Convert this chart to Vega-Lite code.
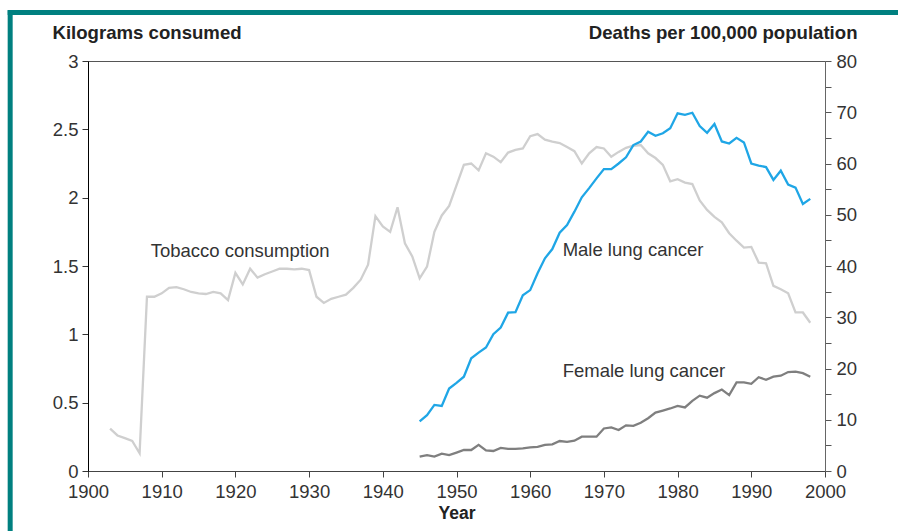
{
  "$schema": "https://vega.github.io/schema/vega-lite/v6.json",
  "width": 737,
  "height": 410,
  "autosize": {"type": "none"},
  "padding": {"left": 88, "top": 61, "right": 73, "bottom": 60},
  "background": "white",
  "config": {
    "view": {"stroke": "#555", "strokeWidth": 1},
    "font": "Liberation Sans",
    "axis": {
      "grid": false,
      "labelFont": "Liberation Sans",
      "labelFontSize": 18.5,
      "labelColor": "#333",
      "titleFont": "Liberation Sans",
      "titleFontSize": 18.6,
      "titleFontWeight": "bold",
      "titleColor": "#222",
      "tickSize": 6,
      "labelOverlap": false,
      "labelFlush": false
    }
  },
  "datasets": {
    "tobacco": [
      {"year": 1903, "kg": 0.31}, {"year": 1904, "kg": 0.26}, {"year": 1905, "kg": 0.24}, {"year": 1906, "kg": 0.22}, {"year": 1907, "kg": 0.13},
      {"year": 1908, "kg": 1.275}, {"year": 1909, "kg": 1.275}, {"year": 1910, "kg": 1.30}, {"year": 1911, "kg": 1.34}, {"year": 1912, "kg": 1.345},
      {"year": 1913, "kg": 1.33}, {"year": 1914, "kg": 1.31}, {"year": 1915, "kg": 1.30}, {"year": 1916, "kg": 1.295}, {"year": 1917, "kg": 1.31},
      {"year": 1918, "kg": 1.30}, {"year": 1919, "kg": 1.25}, {"year": 1920, "kg": 1.45}, {"year": 1921, "kg": 1.365}, {"year": 1922, "kg": 1.48},
      {"year": 1923, "kg": 1.415}, {"year": 1924, "kg": 1.44}, {"year": 1925, "kg": 1.46}, {"year": 1926, "kg": 1.48}, {"year": 1927, "kg": 1.48},
      {"year": 1928, "kg": 1.475}, {"year": 1929, "kg": 1.48}, {"year": 1930, "kg": 1.47}, {"year": 1931, "kg": 1.275}, {"year": 1932, "kg": 1.23},
      {"year": 1933, "kg": 1.26}, {"year": 1934, "kg": 1.275}, {"year": 1935, "kg": 1.29}, {"year": 1936, "kg": 1.34}, {"year": 1937, "kg": 1.40},
      {"year": 1938, "kg": 1.51}, {"year": 1939, "kg": 1.865}, {"year": 1940, "kg": 1.79}, {"year": 1941, "kg": 1.75}, {"year": 1942, "kg": 1.93},
      {"year": 1943, "kg": 1.666}, {"year": 1944, "kg": 1.57}, {"year": 1945, "kg": 1.41}, {"year": 1946, "kg": 1.495}, {"year": 1947, "kg": 1.75},
      {"year": 1948, "kg": 1.87}, {"year": 1949, "kg": 1.94}, {"year": 1950, "kg": 2.09}, {"year": 1951, "kg": 2.24}, {"year": 1952, "kg": 2.25},
      {"year": 1953, "kg": 2.20}, {"year": 1954, "kg": 2.325}, {"year": 1955, "kg": 2.30}, {"year": 1956, "kg": 2.26}, {"year": 1957, "kg": 2.33},
      {"year": 1958, "kg": 2.35}, {"year": 1959, "kg": 2.36}, {"year": 1960, "kg": 2.45}, {"year": 1961, "kg": 2.465}, {"year": 1962, "kg": 2.425},
      {"year": 1963, "kg": 2.41}, {"year": 1964, "kg": 2.40}, {"year": 1965, "kg": 2.37}, {"year": 1966, "kg": 2.34}, {"year": 1967, "kg": 2.25},
      {"year": 1968, "kg": 2.325}, {"year": 1969, "kg": 2.37}, {"year": 1970, "kg": 2.36}, {"year": 1971, "kg": 2.30}, {"year": 1972, "kg": 2.335},
      {"year": 1973, "kg": 2.365}, {"year": 1974, "kg": 2.38}, {"year": 1975, "kg": 2.385}, {"year": 1976, "kg": 2.325}, {"year": 1977, "kg": 2.29},
      {"year": 1978, "kg": 2.24}, {"year": 1979, "kg": 2.12}, {"year": 1980, "kg": 2.135}, {"year": 1981, "kg": 2.11}, {"year": 1982, "kg": 2.10},
      {"year": 1983, "kg": 1.98}, {"year": 1984, "kg": 1.91}, {"year": 1985, "kg": 1.86}, {"year": 1986, "kg": 1.82}, {"year": 1987, "kg": 1.74},
      {"year": 1988, "kg": 1.685}, {"year": 1989, "kg": 1.635}, {"year": 1990, "kg": 1.64}, {"year": 1991, "kg": 1.525}, {"year": 1992, "kg": 1.52},
      {"year": 1993, "kg": 1.355}, {"year": 1994, "kg": 1.33}, {"year": 1995, "kg": 1.30}, {"year": 1996, "kg": 1.16}, {"year": 1997, "kg": 1.16},
      {"year": 1998, "kg": 1.085}
    ],
    "cancer": [
      {"year": 1945, "sex": "Male", "deaths": 9.7}, {"year": 1946, "sex": "Male", "deaths": 10.9}, {"year": 1947, "sex": "Male", "deaths": 12.9},
      {"year": 1948, "sex": "Male", "deaths": 12.7}, {"year": 1949, "sex": "Male", "deaths": 16.1}, {"year": 1950, "sex": "Male", "deaths": 17.2},
      {"year": 1951, "sex": "Male", "deaths": 18.4}, {"year": 1952, "sex": "Male", "deaths": 22.0}, {"year": 1953, "sex": "Male", "deaths": 23.1},
      {"year": 1954, "sex": "Male", "deaths": 24.1}, {"year": 1955, "sex": "Male", "deaths": 26.7}, {"year": 1956, "sex": "Male", "deaths": 28.0},
      {"year": 1957, "sex": "Male", "deaths": 30.9}, {"year": 1958, "sex": "Male", "deaths": 31.0}, {"year": 1959, "sex": "Male", "deaths": 34.3},
      {"year": 1960, "sex": "Male", "deaths": 35.3}, {"year": 1961, "sex": "Male", "deaths": 38.6}, {"year": 1962, "sex": "Male", "deaths": 41.5},
      {"year": 1963, "sex": "Male", "deaths": 43.3}, {"year": 1964, "sex": "Male", "deaths": 46.5}, {"year": 1965, "sex": "Male", "deaths": 48.0},
      {"year": 1966, "sex": "Male", "deaths": 50.6}, {"year": 1967, "sex": "Male", "deaths": 53.4}, {"year": 1968, "sex": "Male", "deaths": 55.2},
      {"year": 1969, "sex": "Male", "deaths": 57.1}, {"year": 1970, "sex": "Male", "deaths": 58.9}, {"year": 1971, "sex": "Male", "deaths": 58.9},
      {"year": 1972, "sex": "Male", "deaths": 60.0}, {"year": 1973, "sex": "Male", "deaths": 61.2}, {"year": 1974, "sex": "Male", "deaths": 63.6},
      {"year": 1975, "sex": "Male", "deaths": 64.3}, {"year": 1976, "sex": "Male", "deaths": 66.2}, {"year": 1977, "sex": "Male", "deaths": 65.4},
      {"year": 1978, "sex": "Male", "deaths": 65.9}, {"year": 1979, "sex": "Male", "deaths": 66.9}, {"year": 1980, "sex": "Male", "deaths": 69.8},
      {"year": 1981, "sex": "Male", "deaths": 69.5}, {"year": 1982, "sex": "Male", "deaths": 69.9}, {"year": 1983, "sex": "Male", "deaths": 67.3},
      {"year": 1984, "sex": "Male", "deaths": 66.0}, {"year": 1985, "sex": "Male", "deaths": 67.7}, {"year": 1986, "sex": "Male", "deaths": 64.3},
      {"year": 1987, "sex": "Male", "deaths": 63.9}, {"year": 1988, "sex": "Male", "deaths": 65.0}, {"year": 1989, "sex": "Male", "deaths": 64.1},
      {"year": 1990, "sex": "Male", "deaths": 60.0}, {"year": 1991, "sex": "Male", "deaths": 59.6}, {"year": 1992, "sex": "Male", "deaths": 59.3},
      {"year": 1993, "sex": "Male", "deaths": 56.8}, {"year": 1994, "sex": "Male", "deaths": 58.6}, {"year": 1995, "sex": "Male", "deaths": 55.9},
      {"year": 1996, "sex": "Male", "deaths": 55.3}, {"year": 1997, "sex": "Male", "deaths": 52.1}, {"year": 1998, "sex": "Male", "deaths": 53.1},
      {"year": 1945, "sex": "Female", "deaths": 2.8}, {"year": 1946, "sex": "Female", "deaths": 3.1}, {"year": 1947, "sex": "Female", "deaths": 2.8},
      {"year": 1948, "sex": "Female", "deaths": 3.4}, {"year": 1949, "sex": "Female", "deaths": 3.1}, {"year": 1950, "sex": "Female", "deaths": 3.6},
      {"year": 1951, "sex": "Female", "deaths": 4.1}, {"year": 1952, "sex": "Female", "deaths": 4.1}, {"year": 1953, "sex": "Female", "deaths": 5.1},
      {"year": 1954, "sex": "Female", "deaths": 4.0}, {"year": 1955, "sex": "Female", "deaths": 3.9}, {"year": 1956, "sex": "Female", "deaths": 4.5},
      {"year": 1957, "sex": "Female", "deaths": 4.3}, {"year": 1958, "sex": "Female", "deaths": 4.3}, {"year": 1959, "sex": "Female", "deaths": 4.4},
      {"year": 1960, "sex": "Female", "deaths": 4.6}, {"year": 1961, "sex": "Female", "deaths": 4.7}, {"year": 1962, "sex": "Female", "deaths": 5.1},
      {"year": 1963, "sex": "Female", "deaths": 5.2}, {"year": 1964, "sex": "Female", "deaths": 5.85}, {"year": 1965, "sex": "Female", "deaths": 5.7},
      {"year": 1966, "sex": "Female", "deaths": 5.9}, {"year": 1967, "sex": "Female", "deaths": 6.7}, {"year": 1968, "sex": "Female", "deaths": 6.7},
      {"year": 1969, "sex": "Female", "deaths": 6.7}, {"year": 1970, "sex": "Female", "deaths": 8.3}, {"year": 1971, "sex": "Female", "deaths": 8.5},
      {"year": 1972, "sex": "Female", "deaths": 8.0}, {"year": 1973, "sex": "Female", "deaths": 8.9}, {"year": 1974, "sex": "Female", "deaths": 8.8},
      {"year": 1975, "sex": "Female", "deaths": 9.4}, {"year": 1976, "sex": "Female", "deaths": 10.3}, {"year": 1977, "sex": "Female", "deaths": 11.4},
      {"year": 1978, "sex": "Female", "deaths": 11.8}, {"year": 1979, "sex": "Female", "deaths": 12.2}, {"year": 1980, "sex": "Female", "deaths": 12.7},
      {"year": 1981, "sex": "Female", "deaths": 12.4}, {"year": 1982, "sex": "Female", "deaths": 13.7}, {"year": 1983, "sex": "Female", "deaths": 14.7},
      {"year": 1984, "sex": "Female", "deaths": 14.3}, {"year": 1985, "sex": "Female", "deaths": 15.2}, {"year": 1986, "sex": "Female", "deaths": 15.9},
      {"year": 1987, "sex": "Female", "deaths": 14.8}, {"year": 1988, "sex": "Female", "deaths": 17.3}, {"year": 1989, "sex": "Female", "deaths": 17.3},
      {"year": 1990, "sex": "Female", "deaths": 17.0}, {"year": 1991, "sex": "Female", "deaths": 18.3}, {"year": 1992, "sex": "Female", "deaths": 17.8},
      {"year": 1993, "sex": "Female", "deaths": 18.4}, {"year": 1994, "sex": "Female", "deaths": 18.6}, {"year": 1995, "sex": "Female", "deaths": 19.3},
      {"year": 1996, "sex": "Female", "deaths": 19.4}, {"year": 1997, "sex": "Female", "deaths": 19.1}, {"year": 1998, "sex": "Female", "deaths": 18.4}
    ],
    "labels": [
      {"label": "Tobacco consumption", "year": 1908.5, "kg": 1.565},
      {"label": "Male lung cancer", "year": 1964.4, "kg": 1.573},
      {"label": "Female lung cancer", "year": 1964.4, "kg": 0.688}
    ]
  },
  "layer": [
    {
      "layer": [
        {
          "data": {"values": [{}]},
          "mark": {"type": "rule", "color": "#008080", "strokeWidth": 5},
          "encoding": {
            "x": {"datum": 1889.44, "type": "quantitative", "scale": {"domain": [1900, 2000], "nice": false, "zero": false}},
            "y": {"datum": -0.6, "type": "quantitative"},
            "y2": {"datum": 3.372}
          }
        },
        {
          "data": {"values": [{}]},
          "mark": {"type": "rule", "color": "#008080", "strokeWidth": 5},
          "encoding": {
            "x": {"datum": 1889.1, "type": "quantitative", "scale": {"domain": [1900, 2000], "nice": false, "zero": false}},
            "x2": {"datum": 2012},
            "y": {"datum": 3.354, "type": "quantitative"}
          }
        },
        {
          "data": {"name": "tobacco"},
          "mark": {"type": "line", "color": "#cfcfcf", "strokeWidth": 2.3},
          "encoding": {
            "x": {
              "field": "year", "type": "quantitative",
              "scale": {"domain": [1900, 2000], "nice": false, "zero": false},
              "axis": {
                "title": "Year",
                "values": [1900, 1905, 1910, 1915, 1920, 1925, 1930, 1935, 1940, 1945, 1950, 1955, 1960, 1965, 1970, 1975, 1980, 1985, 1990, 1995, 2000],
                "labelExpr": "datum.value % 10 == 0 ? format(datum.value, 'd') : ''",
                "domainColor": "#444",
                "tickColor": "#444",
                "labelPadding": 5,
                "titleBaseline": "alphabetic",
                "titleY": 47,
                "titleFontSize": 17.5
              }
            },
            "y": {
              "field": "kg", "type": "quantitative",
              "scale": {"domain": [0, 3], "nice": false, "zero": true},
              "axis": {
                "orient": "left",
                "title": "Kilograms consumed",
                "values": [0, 0.5, 1, 1.5, 2, 2.5, 3],
                "format": "~g",
                "domainColor": "#000",
                "tickColor": "#333",
                "labelPadding": 4,
                "titleAngle": 0,
                "titleAlign": "left",
                "titleBaseline": "alphabetic",
                "titleX": -36,
                "titleY": -23
              }
            }
          }
        },
        {
          "data": {"name": "labels"},
          "mark": {"type": "text", "align": "left", "baseline": "alphabetic", "fontSize": 18.5, "color": "#333", "font": "Liberation Sans"},
          "encoding": {
            "x": {"field": "year", "type": "quantitative", "scale": {"domain": [1900, 2000], "nice": false, "zero": false}},
            "y": {"field": "kg", "type": "quantitative"},
            "text": {"field": "label"}
          }
        }
      ]
    },
    {
      "data": {"name": "cancer"},
      "mark": {"type": "line", "strokeWidth": 2.3},
      "encoding": {
        "x": {"field": "year", "type": "quantitative", "scale": {"domain": [1900, 2000], "nice": false, "zero": false}},
        "y": {
          "field": "deaths", "type": "quantitative",
          "scale": {"domain": [0, 80], "nice": false, "zero": true},
          "axis": {
            "orient": "right",
            "title": "Deaths per 100,000 population",
            "values": [0, 5, 10, 15, 20, 25, 30, 35, 40, 45, 50, 55, 60, 65, 70, 75, 80],
            "labelExpr": "datum.value % 10 == 0 ? format(datum.value, 'd') : ''",
            "domainColor": "#666",
            "tickColor": "#555",
            "labelPadding": 5,
            "titleAngle": 0,
            "titleAlign": "right",
            "titleBaseline": "alphabetic",
            "titleX": 32,
            "titleY": -23
          }
        },
        "color": {
          "field": "sex", "type": "nominal",
          "scale": {"domain": ["Male", "Female"], "range": ["#1fa6e6", "#7f7f7f"]},
          "legend": null
        }
      }
    }
  ],
  "resolve": {"scale": {"y": "independent"}, "axis": {"y": "independent"}}
}
